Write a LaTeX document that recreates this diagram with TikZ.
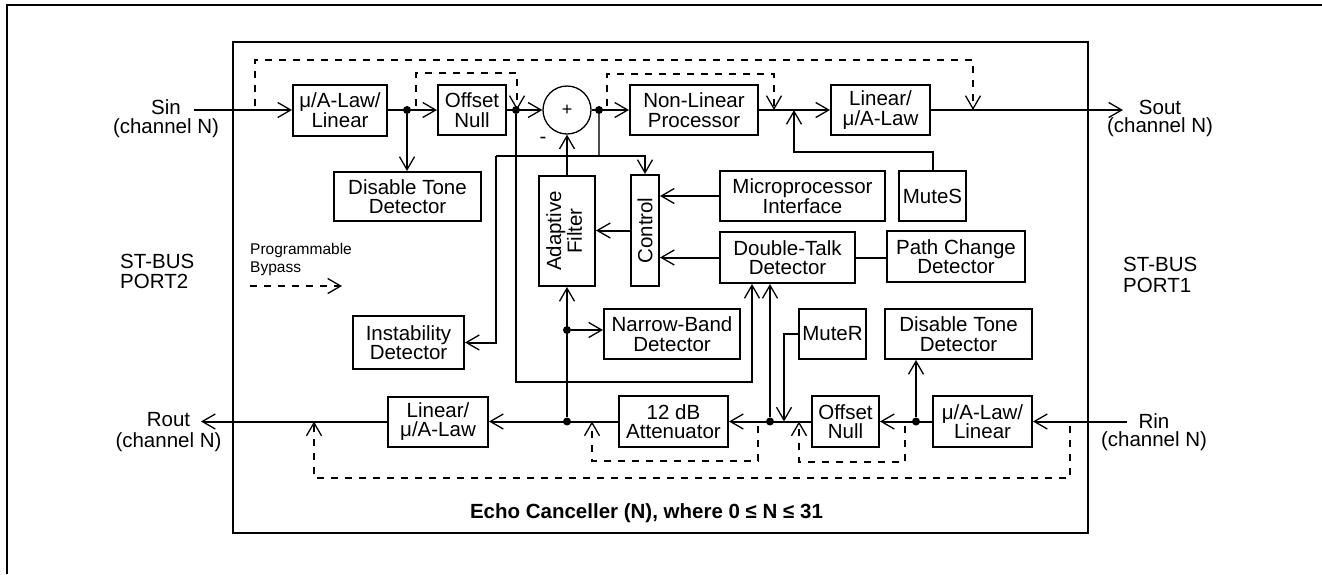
\documentclass[tikz,border=0pt]{standalone}
\usepackage{fontspec}
\setmainfont{Liberation Sans}
\usepackage{graphicx}
\usetikzlibrary{arrows.meta,calc}
\newcommand\fsz{\fontsize{20.5}{19.5}\selectfont}
\begin{document}
\begin{tikzpicture}[x=1pt,y=-1pt,
  blk/.style={draw,line width=2pt,inner sep=0pt,align=center,font=\fsz},
  ln/.style={line width=2pt},
  arr/.style={ln,-{Straight Barb[length=13pt,width=15pt,line width=1.3pt]}},
  byp/.style={line width=1.7pt,dash pattern=on 7pt off 7pt},
  byparr/.style={byp,-{Straight Barb[length=13pt,width=15pt,line width=1.3pt]}},
  dot/.style={circle,fill,inner sep=0pt,minimum size=8pt},
  lbl/.style={inner sep=0pt,align=center}]
\useasboundingbox (0,0) rectangle (1322,574);
\draw[line width=2pt] (7,574) -- (7,5) -- (1322,5);
\draw[line width=2pt] (233,42) rectangle (1088,533);

% blocks
\node[blk,minimum width=94,minimum height=51] (mu1) at (340,110) {μ/A-Law/\\Linear};
\node[blk,minimum width=68,minimum height=50] (on1) at (472,110) {Offset\\Null};
\node[blk,minimum width=147,minimum height=49] (dtd1) at (407.5,196.5) {Disable Tone\\Detector};
\node[draw,circle,line width=1.3pt,minimum size=48,inner sep=0pt,font=\fontsize{18}{18}\selectfont] (sum) at (567,110) {+};
\node[blk,minimum width=128,minimum height=50] (nlp) at (694,110) {Non-Linear\\Processor};
\node[blk,minimum width=99,minimum height=50] (lin1) at (880.5,110) {Linear/\\μ/A-Law};
\node[blk,minimum width=67,minimum height=50] (mutes) at (932.5,196) {MuteS};
\node[blk,minimum width=165,minimum height=50] (mpi) at (802.5,196) {Microprocessor\\Interface};
\node[blk,minimum width=28,minimum height=111] (ctrl) at (645,230.5) {\rotatebox{90}{Control}};
\node[blk,minimum width=56,minimum height=110] (af) at (567,231) {\rotatebox{90}{\begin{tabular}{@{}c@{}}Adaptive\\Filter\end{tabular}}};
\node[blk,minimum width=135,minimum height=51] (dtk) at (787.5,257.5) {Double-Talk\\Detector};
\node[blk,minimum width=138,minimum height=51] (pcd) at (956,256.5) {Path Change\\Detector};
\node[blk,minimum width=136,minimum height=50] (nbd) at (672,334) {Narrow-Band\\Detector};
\node[blk,minimum width=111,minimum height=53] (inst) at (408.5,342.5) {Instability\\Detector};
\node[blk,minimum width=67,minimum height=50] (muter) at (832.5,334) {MuteR};
\node[blk,minimum width=147,minimum height=50] (dtd2) at (958.5,334) {Disable Tone\\Detector};
\node[blk,minimum width=109,minimum height=51] (att) at (673.5,421.5) {12 dB\\Attenuator};
\node[blk,minimum width=67,minimum height=51] (on2) at (845.5,421.5) {Offset\\Null};
\node[blk,minimum width=99,minimum height=51] (mu2) at (982.5,421.5) {μ/A-Law/\\Linear};
\node[blk,minimum width=100,minimum height=50] (lin2) at (438,421.5) {Linear/\\μ/A-Law};

% dots
\node[dot] (d1) at (407,110) {};
\node[dot] (d2) at (516,110) {};
\node[dot] (d3) at (599,110) {};
\node[dot] (d4) at (916,421.5) {};
\node[dot] (d5) at (770,421.5) {};
\node[dot] (d6) at (567,421.5) {};
\node[dot] (d7) at (567,330) {};

% free ends
\coordinate (sin) at (194,110);
\coordinate (sout) at (1123,110);
\coordinate (rin) at (1127,421.5);
\coordinate (rout) at (201,421.5);
\coordinate (m1) at (794,110);
\coordinate (m2) at (784,421.5);
\coordinate (j1) at (496,156);
\coordinate (q1) at (752,382);

% top path
\draw[arr] (sin) -- (mu1.west);
\draw[arr] (mu1.east) -- (on1.west);
\draw[arr] (d1) -- (d1 |- dtd1.north);
\draw[arr] (on1.east) -- (sum.west);
\draw[arr] (sum.east) -- (nlp.west);
\draw[arr] (nlp.east) -- (lin1.west);
\draw[arr] (lin1.east) -- (sout);
\draw[arr] (af.north) -- (sum.south);
\draw[arr] (ctrl.west) -- (ctrl.west -| af.east);
\draw[arr] (mpi.west) -- (mpi.west -| ctrl.east);
\draw[arr] (dtk.west) -- (dtk.west -| ctrl.east);
\draw[ln] (dtk.east) -- (dtk.east -| pcd.west);
\draw[arr] (mutes.north) -- ++(0,-18) -| (m1);
\draw[line width=1.3pt,black!70] (d3) -- (d3 |- j1);
\draw[arr] (j1) -| (ctrl.north);
\draw[arr] (j1) |- (inst.east);
\draw[arr] (d2) |- (q1) -- (q1 |- dtk.south);

% bottom path
\draw[arr] (rin) -- (mu2.east);
\draw[arr] (mu2.west) -- (on2.east);
\draw[arr] (d4) -- (d4 |- dtd2.south);
\draw[arr] (on2.west) -- (att.east);
\draw[arr] (d5) -- (d5 |- dtk.south);
\draw[arr] (muter.west) -| (m2);
\draw[arr] (att.west) -- (lin2.east);
\draw[arr] (d6) -- (d6 |- af.south);
\draw[arr] (d7) -- (d7 -| nbd.west);
\draw[arr] (lin2.west) -- (rout);

% bypasses
\coordinate (ba1) at (255,106); \coordinate (bb1) at (973,110);
\coordinate (ba2) at (416,106); \coordinate (bb2) at (517,110);
\coordinate (ba3) at (607,106); \coordinate (bb3) at (774,110);
\coordinate (ba4) at (758,426); \coordinate (bb4) at (592,421.5);
\coordinate (ba5) at (905,426); \coordinate (bb5) at (799,421.5);
\coordinate (ba6) at (1070,426); \coordinate (bb6) at (314,421.5);
\coordinate (la) at (250,286); \coordinate (lb) at (342,286);
\draw[byparr] (ba1) -- ++(0,-46) -| (bb1);
\draw[byparr] (ba2) -- ++(0,-33) -| (bb2);
\draw[byparr] (ba3) -- ++(0,-32) -| (bb3);
\draw[byparr] (ba4) -- ++(0,35) -| (bb4);
\draw[byparr] (ba5) -- ++(0,36) -| (bb5);
\draw[byparr] (ba6) -- ++(0,52) -| (bb6);
\draw[byparr] (la) -- (lb);

% labels
\node[lbl,font=\fontsize{20.5}{19}\selectfont] (sinl) at (166,119) {Sin\\(channel N)};
\node[lbl,font=\fontsize{20.5}{18}\selectfont] (soutl) at (1160,118) {Sout\\(channel N)};
\node[lbl,font=\fontsize{20.5}{18.5}\selectfont] (rinl) at (1154,432) {Rin\\(channel N)};
\node[lbl,font=\fontsize{20.5}{21}\selectfont] (routl) at (168.5,432) {Rout\\(channel N)};
\node[lbl,align=left,anchor=north west,font=\fontsize{20.5}{20}\selectfont] (p2) at (120,254) {ST-BUS\\PORT2};
\node[lbl,align=left,anchor=north west,font=\fontsize{20.5}{21}\selectfont] (p1) at (1123,256.5) {ST-BUS\\PORT1};
\node[lbl,align=left,anchor=north west,font=\fontsize{15.5}{18.7}\selectfont] (pb) at (250,242.7) {Programmable\\Bypass};
\node[inner sep=0pt,anchor=base,font=\fontsize{20.5}{24}\selectfont\bfseries] (title) at (646.5,518.3) {Echo Canceller (N), where 0 ≤ N ≤ 31};
\node[inner sep=0pt,font=\fsz] (minus) at (543,140) {-};
\end{tikzpicture}
\end{document}
